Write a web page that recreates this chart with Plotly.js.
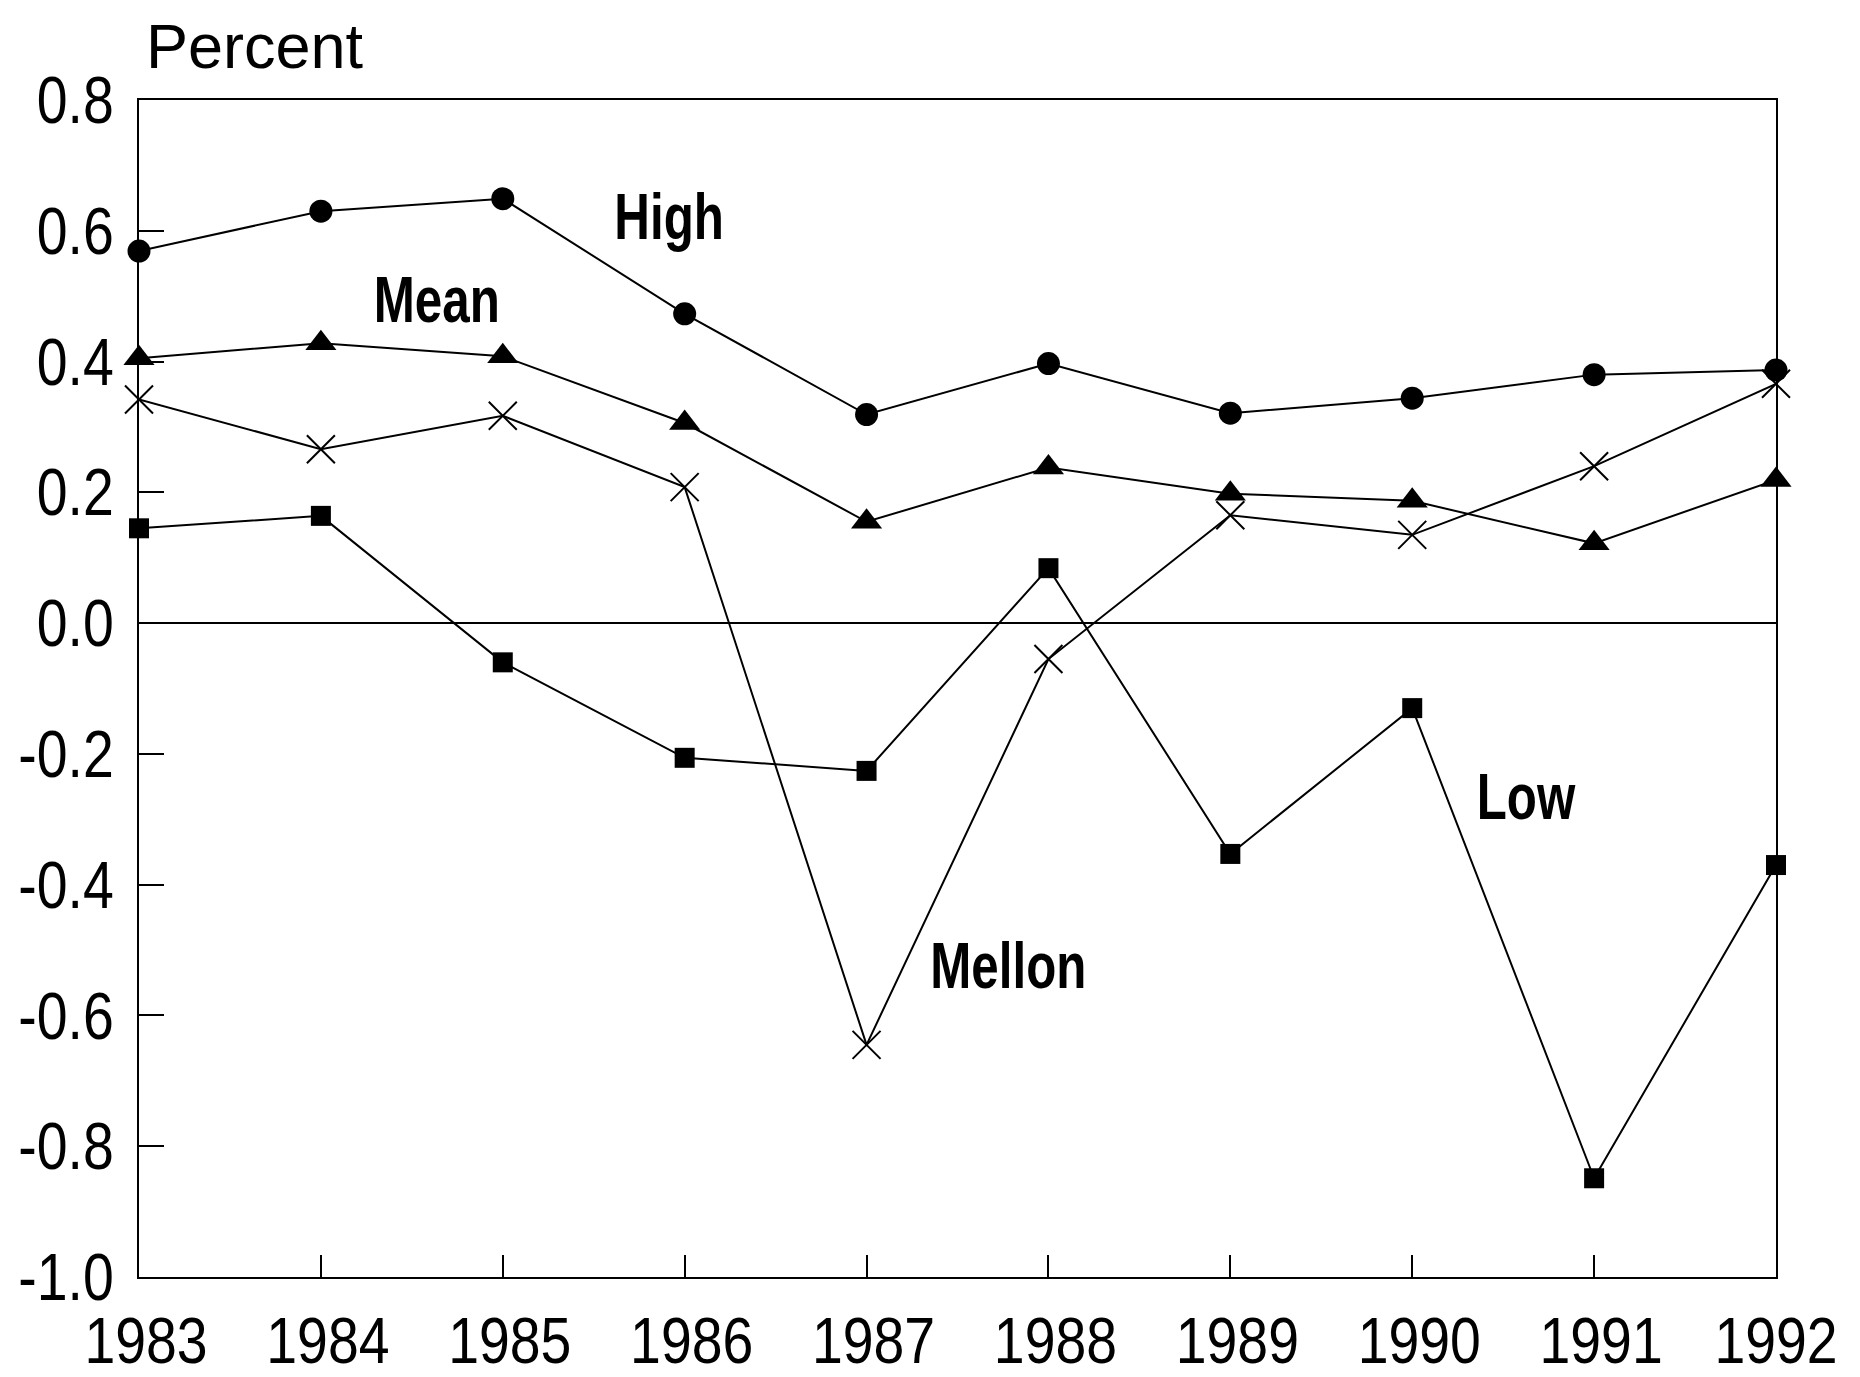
<!DOCTYPE html>
<html>
<head>
<meta charset="utf-8">
<script src="https://cdn.plot.ly/plotly-3.0.1.min.js"></script>
<style>
html, body { margin: 0; padding: 0; background: #fff; }
#chart { width: 1860px; height: 1377px; }
</style>
</head>
<body>
<div id="chart"></div>
<script>
// ---- data ----
const years = [1983, 1984, 1985, 1986, 1987, 1988, 1989, 1990, 1991, 1992];
const highValues   = [0.569, 0.630, 0.649, 0.473, 0.319, 0.397, 0.321, 0.344, 0.380, 0.387];
const meanValues   = [0.405, 0.428, 0.408, 0.306, 0.155, 0.238, 0.198, 0.187, 0.122, 0.219];
const mellonValues = [0.342, 0.266, 0.317, 0.208, -0.645, -0.055, 0.165, 0.135, 0.240, 0.366];
const lowValues    = [0.145, 0.164, -0.060, -0.206, -0.226, 0.084, -0.353, -0.130, -0.849, -0.370];
const yTickValues  = [0.8, 0.6, 0.4, 0.2, 0.0, -0.2, -0.4, -0.6, -0.8, -1.0];
const yTickLabels  = ["0.8", "0.6", "0.4", "0.2", "0.0", "-0.2", "-0.4", "-0.6", "-0.8", "-1.0"];
const xTickLabels  = ["1983", "1984", "1985", "1986", "1987", "1988", "1989", "1990", "1991", "1992"];
const labelTexts   = ["High", "Mean", "Mellon", "Low"];
const labelX       = [1985.916, 1984.641, 1987.779, 1990.626];
const labelY       = [0.621, 0.494, -0.524, -0.266];

const sans = '"Liberation Sans", Arial, sans-serif';

function series(name, vals, symbol, size, isLine) {
  return {
    type: 'scatter', mode: 'lines+markers', name: name,
    x: years, y: vals,
    line: {color: '#000', width: 2},
    marker: isLine
      ? {symbol: symbol, size: size, color: '#000', line: {color: '#000', width: 2}}
      : {symbol: symbol, size: size, color: '#000', line: {width: 0}},
    cliponaxis: false,
    showlegend: false
  };
}

const data = [
  series('High', highValues, 'circle', 23, false),
  series('Mean', meanValues, 'triangle-up', 27, false),
  series('Mellon', mellonValues, 'x-thin', 28, true),
  series('Low', lowValues, 'square', 20, false)
];

const annotations = labelTexts.map((t, i) => ({
  text: t, x: labelX[i], y: labelY[i], xref: 'x', yref: 'y',
  showarrow: false, xanchor: 'center', yanchor: 'middle',
  font: {family: sans, size: 64, weight: 'bold', color: '#000'}
}));
annotations.push({
  text: 'Percent', xref: 'paper', yref: 'paper', x: 0.003, y: 1.046,
  xanchor: 'left', yanchor: 'middle', showarrow: false,
  font: {family: sans, size: 63, color: '#000'}
});

const layout = {
  width: 1860, height: 1377,
  margin: {l: 139, r: 84, t: 100, b: 100, pad: 0},
  paper_bgcolor: '#fff', plot_bgcolor: '#fff',
  showlegend: false,
  xaxis: {
    range: [1983, 1992], tickvals: years, ticktext: xTickLabels,
    ticks: 'inside', ticklen: 22, tickwidth: 2, tickcolor: '#000',
    showline: true, linecolor: '#000', linewidth: 2, mirror: true,
    showgrid: false, zeroline: false,
    tickfont: {family: sans, size: 64, color: '#000'},
    ticklabelstandoff: 7
  },
  yaxis: {
    range: [-1.0, 0.8], tickvals: yTickValues, ticktext: yTickLabels,
    ticks: 'inside', ticklen: 25, tickwidth: 2, tickcolor: '#000',
    showline: true, linecolor: '#000', linewidth: 2, mirror: true,
    showgrid: false, zeroline: true, zerolinecolor: '#000', zerolinewidth: 2,
    tickfont: {family: sans, size: 66, color: '#000'},
    ticklabelstandoff: 10
  },
  annotations: annotations
};

function condense(nodes, factor) {
  nodes.forEach(function (el) {
    const w = el.getComputedTextLength();
    if (w > 0) {
      el.setAttribute('textLength', (w * factor).toFixed(1));
      el.setAttribute('lengthAdjust', 'spacingAndGlyphs');
    }
  });
}

Plotly.newPlot('chart', data, layout, {displayModeBar: false, staticPlot: true}).then(function (gd) {
  const xt = Array.from(gd.querySelectorAll('.xtick text'));
  condense(xt, 0.865);
  condense(gd.querySelectorAll('.ytick text'), 0.84);
  xt.forEach(function (el) {
    if (el.textContent !== '1992') el.setAttribute('dx', '7');
  });
  const ann = Array.from(gd.querySelectorAll('.annotation-text')).filter(function (el) {
    return el.textContent !== 'Percent';
  });
  condense(ann, 0.77);
});
</script>
</body>
</html>
